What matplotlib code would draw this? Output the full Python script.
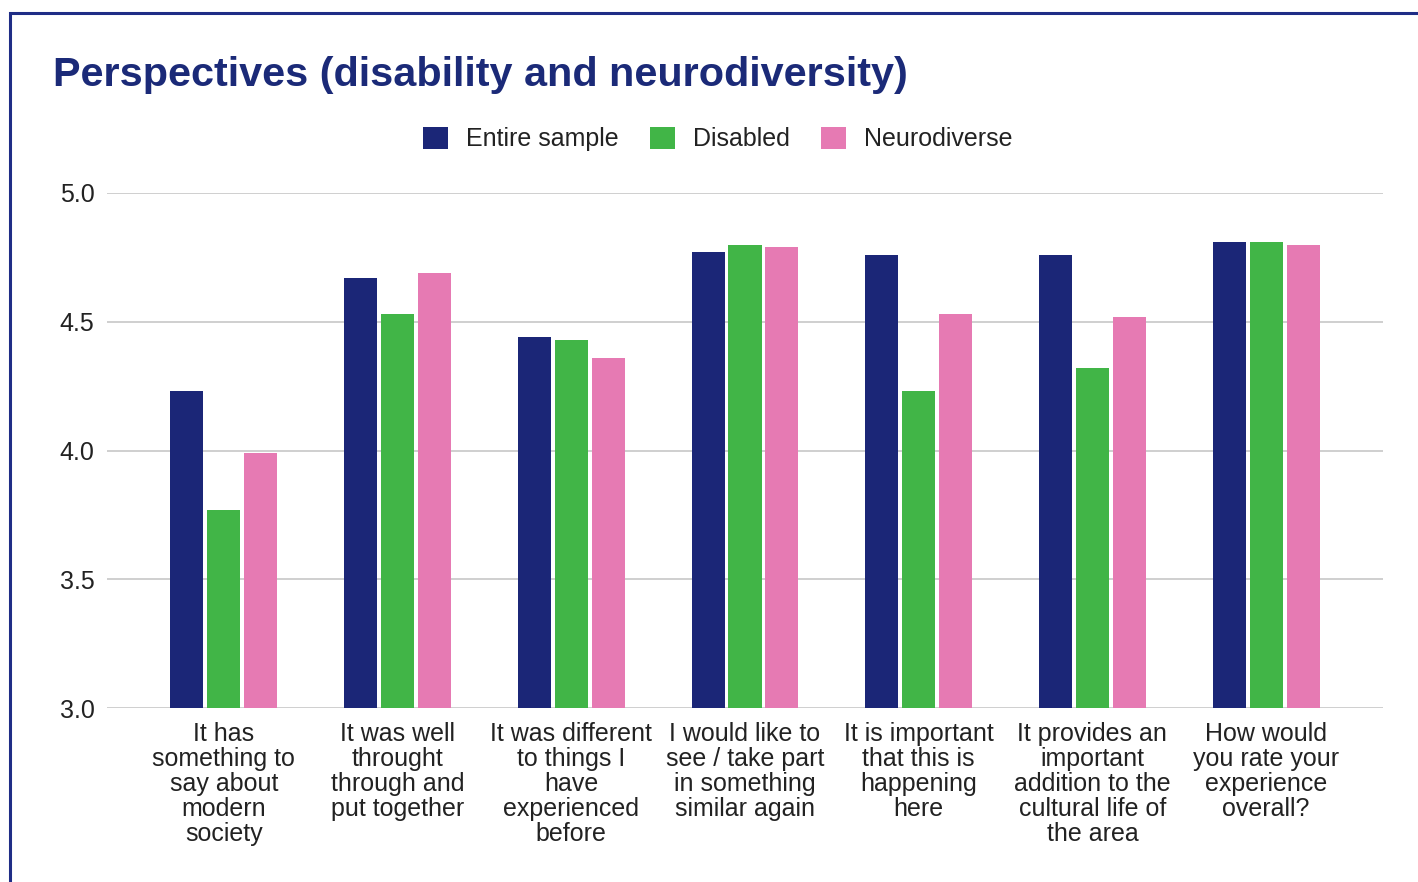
import matplotlib
matplotlib.use("Agg")
import matplotlib.pyplot as plt
import numpy as np
from matplotlib.patches import Rectangle

plt.rcParams['font.family'] = ['Liberation Sans', 'DejaVu Sans']

categories = [
    "It has\nsomething to\nsay about\nmodern\nsociety",
    "It was well\nthrought\nthrough and\nput together",
    "It was different\nto things I\nhave\nexperienced\nbefore",
    "I would like to\nsee / take part\nin something\nsimilar again",
    "It is important\nthat this is\nhappening\nhere",
    "It provides an\nimportant\naddition to the\ncultural life of\nthe area",
    "How would\nyou rate your\nexperience\noverall?",
]
series_names = ["Entire sample", "Disabled", "Neurodiverse"]
entire_sample = [4.23, 4.67, 4.44, 4.77, 4.76, 4.76, 4.81]
disabled = [3.77, 4.53, 4.43, 4.80, 4.23, 4.32, 4.81]
neurodiverse = [3.99, 4.69, 4.36, 4.79, 4.53, 4.52, 4.80]
yticks = [3.0, 3.5, 4.0, 4.5, 5.0]
ytick_labels = ["3.0", "3.5", "4.0", "4.5", "5.0"]

colors = ["#1b2677", "#41b547", "#e67ab3"]
title_color = "#1b2a78"

fig = plt.figure(figsize=(14.18, 8.82), dpi=100)
ax = fig.add_axes([107/1418, 1-708/882, (1383-107)/1418, (708-193)/882])

x = np.arange(len(categories))
width = 0.19
offset = 0.213
for i, (vals, name, c) in enumerate(zip([entire_sample, disabled, neurodiverse], series_names, colors)):
    ax.bar(x + (i-1)*offset, np.array(vals) - 3.0, width, bottom=3.0, color=c, label=name, zorder=3)

ax.set_ylim(3.0, 5.0)
ax.set_xlim(-0.673, 6.673)
ax.set_yticks(yticks)
ax.set_yticklabels(ytick_labels)
ax.set_xticks(x)
ax.set_xticklabels(categories, linespacing=1.05)
ax.tick_params(axis='both', length=0, labelsize=18, colors='#222222')
ax.tick_params(axis='y', pad=9)
ax.tick_params(axis='x', pad=10)
ax.grid(axis='y', color='#cccccc', linewidth=1.3, zorder=0)
for s in ax.spines.values():
    s.set_visible(False)

fig.text(53/1418, 1-75/882, "Perspectives (disability and neurodiversity)", fontsize=29.8,
         fontweight='bold', color=title_color, ha='left', va='center')

leg = fig.legend(loc='center', bbox_to_anchor=(718/1418, 1-139/882), ncol=3, frameon=False,
                 fontsize=18, handlelength=1.0, handleheight=1.0, handletextpad=0.72,
                 columnspacing=1.25, labelcolor='#222222')

fig.patches.append(Rectangle((10/1418, -0.1), 1.2, 1.1 - 13/882, transform=fig.transFigure,
                             fill=False, edgecolor='#1f2d86', linewidth=2.2, clip_on=False))

fig.savefig("out.png", dpi=100, facecolor='white')
